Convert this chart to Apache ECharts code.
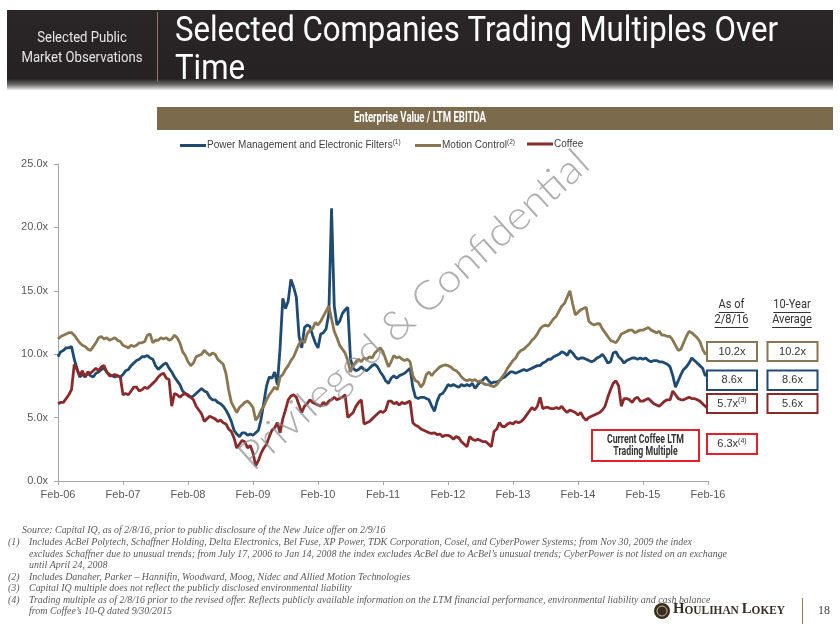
<!DOCTYPE html>
<html><head><meta charset="utf-8">
<script src="https://cdn.jsdelivr.net/npm/echarts@6/dist/echarts.min.js"></script>
<style>
body{margin:0;width:840px;height:635px;overflow:hidden;background:#fff;}
#chart{position:absolute;left:0;top:0;width:840px;height:635px;}
</style></head><body>
<div id="chart"></div>
<script>
// ---------- DATA (semi-monthly observations, Feb-06 .. Feb-16) ----------
const tickLabels = ['Feb-06','Feb-07','Feb-08','Feb-09','Feb-10','Feb-11','Feb-12','Feb-13','Feb-14','Feb-15','Feb-16'];
const seriesNames = ['Power Management and Electronic Filters','Motion Control','Coffee'];
const superscripts = {'Power Management and Electronic Filters':'(1)','Motion Control':'(2)'};

const powerMgmt = [
9.8,10.2,10.3,10.5,10.5,10.6,9.6,8.9,8.2,8.4,8.2,8.5,8.3,8.2,8.5,8.6,8.8,8.9,8.6,8.4,8.3,8.2,8.3,8.2,
8.4,8.7,8.8,9.1,9.3,9.5,9.6,9.8,9.8,9.9,9.7,9.6,9.1,8.8,9.0,9.2,9.3,8.9,8.6,8.2,7.9,7.6,7.1,6.9,
6.8,6.6,6.7,6.9,7.1,7.3,7.1,7.0,6.6,6.4,6.4,6.2,6.1,5.9,5.6,5.2,4.7,4.0,3.7,3.5,3.8,3.8,3.6,3.7,
3.6,3.8,4.0,4.9,6.2,7.5,8.2,8.1,8.6,7.6,10.5,14.4,13.6,14.2,15.9,15.3,14.5,11.4,10.5,12.1,12.3,12.2,11.5,10.9,
10.5,11.6,11.7,12.0,13.2,21.5,13.8,12.3,12.6,13.2,13.5,13.7,9.6,8.9,8.7,8.8,9.0,8.8,8.7,8.9,9.1,9.2,9.0,8.6,
8.3,7.9,7.7,8.1,8.3,8.1,8.3,8.4,8.5,8.7,8.9,7.4,6.6,6.5,6.6,6.6,6.5,6.4,5.9,5.5,6.3,6.8,6.9,7.2,
7.6,7.5,7.6,7.5,7.4,7.6,7.5,7.6,7.5,7.7,7.3,7.6,7.8,8.0,8.2,7.9,7.7,7.8,7.8,7.9,8.1,8.2,8.4,8.6,
8.6,8.5,8.6,8.7,8.8,8.7,8.8,8.9,9.0,9.1,9.1,9.3,9.4,9.6,9.6,9.8,9.9,10.0,10.2,10.1,9.9,10.3,10.1,9.8,
9.6,9.7,9.7,9.6,9.5,9.4,9.5,9.7,9.8,10.0,9.7,9.3,9.4,10.1,10.2,9.8,9.6,9.3,9.5,9.6,9.7,9.7,9.6,9.7,
9.6,9.7,9.5,9.4,9.5,9.5,9.4,9.4,9.3,9.2,9.0,8.3,7.4,7.9,8.4,8.8,9.0,9.3,9.7,9.5,9.3,9.1,8.9,8.3,8.5];

const motionControl = [
11.2,11.4,11.5,11.6,11.7,11.7,11.5,11.2,10.9,10.7,10.6,10.4,10.3,10.6,10.9,11.3,11.4,11.2,11.3,11.1,11.2,11.3,11.1,11.0,
10.7,10.6,10.5,10.7,10.6,10.7,10.9,10.9,11.0,11.5,11.6,10.9,11.1,11.1,11.3,11.2,11.3,11.1,11.2,11.5,11.3,10.9,10.2,9.9,
9.4,9.1,9.3,9.8,9.9,10.0,10.3,10.1,9.9,10.1,10.0,9.6,9.4,9.2,8.5,7.2,6.2,5.8,5.4,5.8,6.0,6.2,6.3,6.1,
5.8,4.8,5.1,5.6,5.9,6.4,6.8,7.1,7.4,7.2,8.2,8.4,8.8,9.1,9.5,9.8,10.3,10.8,11.1,10.9,11.6,11.9,12.0,12.5,
12.3,12.6,13.0,13.4,13.8,12.8,11.8,11.3,10.7,10.4,10.1,9.5,8.6,9.1,9.4,9.6,9.4,9.7,9.6,9.8,9.7,10.1,10.3,10.5,
10.2,9.6,9.0,9.4,9.9,9.7,9.8,9.6,9.5,9.6,9.4,8.3,7.9,7.8,7.4,7.7,8.4,8.6,8.3,8.6,8.8,9.0,9.1,9.15,
9.1,9.0,8.8,8.7,8.5,8.2,8.0,7.9,8.0,7.9,8.0,7.8,7.9,7.7,7.6,7.6,7.5,7.45,7.6,7.9,8.2,8.5,8.9,9.2,
9.5,9.7,10.1,10.3,10.4,10.6,10.8,11.1,11.3,11.6,12.0,12.2,12.3,12.2,12.5,12.8,13.0,13.4,13.8,14.0,14.5,15.0,14.0,13.1,
13.3,13.5,13.6,13.7,12.6,12.4,12.3,12.4,12.4,12.0,11.7,11.4,11.1,11.0,10.9,11.2,11.6,11.7,11.8,11.9,11.9,11.7,11.8,11.9,
11.9,12.0,12.1,11.9,11.8,11.7,11.8,11.5,11.5,11.4,11.4,11.1,10.7,10.3,10.4,10.9,11.4,11.8,11.7,11.5,11.3,11.0,10.4,10.0,10.2];

const coffee = [
6.1,6.2,6.2,6.5,6.8,7.2,9.2,8.8,8.3,8.7,8.2,8.6,8.5,8.7,8.9,8.7,9.0,9.1,8.6,8.3,8.3,8.4,8.3,8.2,
6.8,6.9,6.8,7.1,7.4,7.4,7.1,7.2,7.4,7.3,7.5,7.7,7.9,8.2,8.4,8.5,8.1,8.0,5.9,6.9,6.8,6.6,6.8,6.9,
6.7,6.6,6.4,5.9,5.6,5.3,4.7,4.9,5.1,5.0,4.9,4.7,4.8,4.6,4.5,4.1,3.9,3.4,2.6,2.9,3.2,3.1,2.6,2.8,
2.2,1.2,1.6,2.2,2.6,2.9,3.5,4.0,4.2,4.6,3.8,4.9,5.6,6.4,6.7,6.8,6.6,6.0,5.4,5.9,6.1,6.4,6.2,6.1,
6.0,5.9,6.2,6.0,6.3,6.4,6.6,6.4,6.5,6.6,6.8,5.0,5.2,5.4,5.9,6.2,6.4,4.5,4.6,4.7,4.9,5.1,5.3,5.5,
5.4,5.6,6.3,6.3,6.1,6.2,6.0,6.2,6.1,6.2,6.3,4.6,4.4,4.3,4.1,4.0,3.9,3.8,3.75,3.8,3.65,3.7,3.5,3.6,
3.6,3.5,3.3,3.5,3.4,3.1,2.9,2.7,3.5,3.3,3.2,3.3,3.2,3.1,3.1,2.9,2.7,3.9,4.1,4.6,4.3,4.3,4.5,4.6,
4.5,4.7,4.6,4.7,4.9,5.2,5.5,5.8,5.6,5.9,6.6,5.7,5.8,5.8,5.7,5.7,5.8,5.7,5.9,5.6,5.4,5.6,5.5,5.4,
5.2,5.4,5.0,4.8,5.0,5.1,5.2,5.3,5.4,5.6,5.9,6.6,7.2,7.7,7.9,7.5,5.9,6.5,6.5,6.4,6.2,6.5,6.6,6.3,
6.3,6.4,6.5,6.3,6.1,6.0,5.9,6.1,6.3,6.4,6.4,7.1,6.8,6.5,6.4,6.4,6.5,6.6,6.5,6.5,6.4,6.3,6.1,5.9,5.7];

// summary table values
const asOfValues = ['10.2x','8.6x','5.7x'];
const avgValues = ['10.2x','8.6x','5.6x'];
const currentCoffee = '6.3x';

// ---------- category dates (1st & 15th of each month) ----------
const dates = [];
for (let i = 0; i < powerMgmt.length; i++) {
  const m = 1 + Math.floor(i / 2);
  const y = 2006 + Math.floor(m / 12);
  const mo = (m % 12) + 1;
  dates.push(y + '-' + String(mo).padStart(2, '0') + '-' + (i % 2 ? '15' : '01'));
}

// ---------- styles ----------
const BLUE = '#1f4a72', TAN = '#8a7752', RED = '#8b2a2b', BRIGHT = '#e3202b';
const COND = "Roboto,'Liberation Sans',sans-serif";
const SANS = "'Liberation Sans',Arial,sans-serif";
const SERIF = "'Liberation Serif','DejaVu Serif',serif";

const mctx = document.createElement('canvas').getContext('2d');
function fontStr(o){ return (o.style||'normal') + ' ' + (o.weight||'normal') + ' ' + o.size + 'px ' + o.family; }
function tw(text, o){ mctx.font = fontStr(o); return mctx.measureText(text).width; }
function txt(text, x, y, o){
  return {type:'text', x:x, y:y, scaleX:o.sx||1, z:o.z||50, silent:true,
    style:{text:text, fill:o.color||'#333', font:fontStr(o), fontSize:o.size, fontFamily:o.family,
      fontWeight:o.weight||'normal', fontStyle:o.style||'normal',
      textAlign:o.align||'left', align:o.align||'left', textVerticalAlign:o.valign||'middle', verticalAlign:o.valign||'middle'}};
}
function rect(x,y,w,h,st,z){ return {type:'rect', z:z||40, silent:true, shape:{x:x,y:y,width:w,height:h}, style:st}; }
function line(x1,y1,x2,y2,color,w,z){ return {type:'line', z:z||40, silent:true, shape:{x1:x1,y1:y1,x2:x2,y2:y2}, style:{stroke:color, lineWidth:w||1}}; }

const els = [];
// header bar
els.push(rect(7,10,826,80,{fill:new echarts.graphic.LinearGradient(0,0,0,1,[
  {offset:0,color:'#2a2627'},{offset:0.86,color:'#262223'},{offset:0.93,color:'#6a6767'},{offset:1,color:'#ededed'}])},10));
els.push(line(157.5,12,157.5,82,'#8c7b57',1,11));
const hdrL = {size:14, family:COND, color:'#e6e6e6'};
hdrL.sx = 121 / tw('Market Observations', hdrL);
els.push(txt('Selected Public', 82, 38, Object.assign({}, hdrL, {align:'center'})));
els.push(txt('Market Observations', 82, 58, Object.assign({}, hdrL, {align:'center'})));
const hdrT = {size:35, family:COND, color:'#ffffff'};
hdrT.sx = 603 / tw('Selected Companies Trading Multiples Over', hdrT);
els.push(txt('Selected Companies Trading Multiples Over', 175, 32, hdrT));
els.push(txt('Time', 175, 70, hdrT));

// band
els.push(rect(157,107,676,23,{fill:'#7b6a4b'},10));
const bandT = {size:15, family:COND, weight:'bold', color:'#ffffff', align:'center'};
bandT.sx = 132 / tw('Enterprise Value / LTM EBITDA', bandT);
els.push(txt('Enterprise Value / LTM EBITDA', 420, 118.5, bandT));

// right-side table
const hd = {size:13, family:COND, color:'#333333', align:'center'};
[['As of',731.5,305],['2/8/16',731.5,320],['10-Year',792,305],['Average',792,320]].forEach(function(a){
  const o = Object.assign({}, hd, {sx:0.85});
  els.push(txt(a[0], a[1], a[2], o));
  const w = tw(a[0], hd) * 0.85;
  els.push(line(a[1]-w/2, a[2]+7.5, a[1]+w/2, a[2]+7.5, '#333333', 1));
});
const boxRows = [[TAN,342,19],[BLUE,370.5,19.5],[RED,394,19]];
const valT = {size:11, family:SANS, color:'#333333', align:'center'};
const richSup = {a:{fontSize:11, fontFamily:SANS, fill:'#333', color:'#333'}, s:{fontSize:7, fontFamily:SANS, fill:'#333', color:'#333', padding:[0,0,6,0]}};
boxRows.forEach(function(r, k){
  els.push(rect(707, r[1], 50, r[2], {fill:'#fff', stroke:r[0], lineWidth:2}));
  els.push(rect(767.5, r[1], 50, r[2], {fill:'#fff', stroke:r[0], lineWidth:2}));
  if (k === 2) {
    els.push({type:'text', x:732, y:r[1]+r[2]/2, z:50, silent:true, style:{text:'{a|'+asOfValues[k]+'}{s|(3)}',
      textAlign:'center', align:'center', textVerticalAlign:'middle', verticalAlign:'middle', rich:richSup}});
  } else {
    els.push(txt(asOfValues[k], 732, r[1]+r[2]/2, valT));
  }
  els.push(txt(avgValues[k], 792.5, r[1]+r[2]/2, valT));
});
els.push(rect(707, 434, 50, 20, {fill:'#fff', stroke:BRIGHT, lineWidth:2}));
els.push({type:'text', x:732, y:444, z:50, silent:true, style:{text:'{a|'+currentCoffee+'}{s|(4)}',
  textAlign:'center', align:'center', textVerticalAlign:'middle', verticalAlign:'middle', rich:richSup}});
els.push(rect(592, 430, 107, 31, {fill:'#fff', stroke:BRIGHT, lineWidth:2}));
const curT = {size:12, family:COND, weight:'bold', color:'#333333', align:'center'};
curT.sx = 77 / tw('Current Coffee LTM', curT);
els.push(txt('Current Coffee LTM', 645.5, 440, curT));
els.push(txt('Trading Multiple', 645.5, 451.5, curT));

// watermark
const wm = {size:40, family:"'Lato','Open Sans',sans-serif", weight:'300', color:'rgba(140,140,140,0.7)', align:'center', z:100};
wm.sx = 456 / tw('Privileged & Confidential', wm);
const wmEl = txt('Privileged & Confidential', 414, 310, wm);
wmEl.rotation = 42 * Math.PI / 180;
els.push(wmEl);

// footnotes
const fn = {size:10, family:SERIF, style:'italic', color:'#5a5a5a'};
fn.sx = 663 / tw('Includes AcBel Polytech, Schaffner Holding, Delta Electronics, Bel Fuse, XP Power, TDK Corporation, Cosel, and CyberPower Systems; from Nov 30, 2009 the index', fn);
const notes = [
  [22,530,'Source: Capital IQ, as of 2/8/16, prior to public disclosure of the New Juice offer on 2/9/16'],
  [8,542,'(1)'],[29,542,'Includes AcBel Polytech, Schaffner Holding, Delta Electronics, Bel Fuse, XP Power, TDK Corporation, Cosel, and CyberPower Systems; from Nov 30, 2009 the index'],
  [29,554,'excludes Schaffner due to unusual trends; from July 17, 2006 to Jan 14, 2008 the index excludes AcBel due to AcBel\u2019s unusual trends; CyberPower is not listed on an exchange'],
  [29,565,'until April 24, 2008'],
  [8,577,'(2)'],[29,577,'Includes Danaher, Parker \u2013 Hannifin, Woodward, Moog, Nidec and Allied Motion Technologies'],
  [8,588,'(3)'],[29,588,'Capital IQ multiple does not reflect the publicly disclosed environmental liability'],
  [8,600,'(4)'],[29,600,'Trading multiple as of 2/8/16 prior to the revised offer. Reflects publicly available information on the LTM financial performance, environmental liability and cash balance'],
  [29,611,'from Coffee\u2019s 10-Q dated 9/30/2015']
];
notes.forEach(function(n){ els.push(txt(n[2], n[0], n[1], fn)); });

// logo + page number
els.push({type:'circle', z:50, silent:true, shape:{cx:662, cy:611, r:8}, style:{fill:'#3a2e24'}});
els.push({type:'circle', z:51, silent:true, shape:{cx:662, cy:611, r:5}, style:{fill:'none', stroke:'#c8b88a', lineWidth:1}});
const logoParts = [['H',15],['OULIHAN',11.5],[' ',11.5],['L',15],['OKEY',11.5]];
let lw = 0; logoParts.forEach(function(p){ lw += tw(p[0], {size:p[1], family:SERIF, weight:'bold'}); });
const lsx = 112 / lw; let lx = 673;
logoParts.forEach(function(p){
  const o = {size:p[1], family:SERIF, weight:'bold', color:'#3a2e24', valign:'bottom', sx:lsx};
  els.push(txt(p[0], lx, 617, o));
  lx += tw(p[0], o) * lsx;
});
els.push(line(802.5,598,802.5,624,'#8c7b57',1));
els.push(txt('18', 824, 611, {size:12, family:SERIF, color:'#404040', align:'center'}));

// ---------- chart ----------
const chart = echarts.init(document.getElementById('chart'), null, {renderer:'canvas', width:840, height:635});
const colors = [BLUE, TAN, RED];
const data = [powerMgmt, motionControl, coffee];
const legendLeft = [175, 410, 522];
const legendCommon = {top:134, icon:'rect', itemWidth:26, itemHeight:3, itemGap:0, selectedMode:false,
  textStyle:{fontSize:10, color:'#404040', fontFamily:SANS, padding:[0,0,0,-4],
    rich:{s:{fontSize:6.5, color:'#404040', fontFamily:SANS, padding:[0,0,6,0]}}},
  formatter:function(name){ return superscripts[name] ? name + '{s|' + superscripts[name] + '}' : name; }};

chart.setOption({
  animation:false,
  backgroundColor:'transparent',
  color:colors,
  legend: seriesNames.map(function(n, k){ return Object.assign({}, legendCommon, {data:[n], left:legendLeft[k]}); }),
  grid:{left:58, right:132, top:164, bottom:154, containLabel:false},
  xAxis:{type:'category', data:dates, boundaryGap:false,
    axisLine:{lineStyle:{color:'#a6a6a6', width:1}},
    axisTick:{show:true, inside:false, length:4, interval:function(i){ return i % 24 === 0; }, lineStyle:{color:'#a6a6a6'}},
    axisLabel:{interval:function(i){ return i % 24 === 0; }, formatter:function(v, i){ return tickLabels[i/24] || ''; },
      color:'#595959', fontSize:11, fontFamily:SANS, margin:8},
    splitLine:{show:false}},
  yAxis:{type:'value', min:0, max:25, interval:5,
    axisLine:{show:true, lineStyle:{color:'#a6a6a6', width:1}},
    axisTick:{show:true, length:4, lineStyle:{color:'#a6a6a6'}},
    splitLine:{show:false},
    axisLabel:{formatter:function(v){ return v.toFixed(1) + 'x'; }, color:'#595959', fontSize:11, fontFamily:SANS, margin:10}},
  series: seriesNames.map(function(n, k){
    return {name:n, type:'line', data:data[k], showSymbol:false, symbol:'none', z:2+k,
      lineStyle:{width:2.8, color:colors[k]}, itemStyle:{color:colors[k]}};
  }),
  graphic:{elements:els}
});
</script>
</body></html>
